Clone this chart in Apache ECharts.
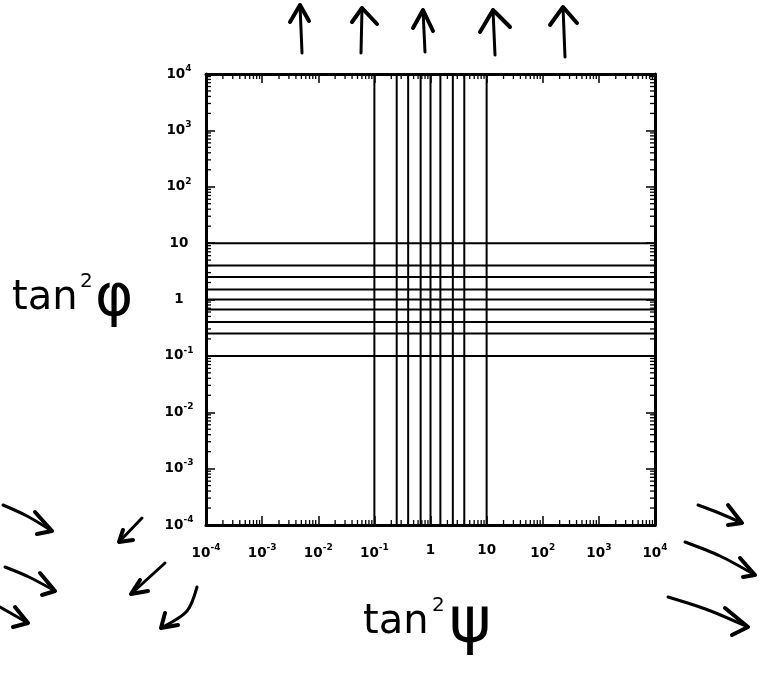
<!DOCTYPE html>
<html>
<head>
<meta charset="utf-8">
<script src="https://cdn.jsdelivr.net/npm/echarts@6/dist/echarts.min.js"></script>
<style>
  html, body { margin: 0; padding: 0; background: #fff; }
  #chart { width: 769px; height: 675px; }
</style>
</head>
<body>
<div id="chart"></div>
<script>
// Log-log coordinate grid: lines of constant tan²ψ (vertical) and tan²φ (horizontal)
const axisRange = [1e-4, 1e4];
const psiValues = [0.1, 0.25, 0.4, 0.667, 1, 1.5, 2.5, 4, 10];   // tan²ψ
const phiValues = [0.1, 0.25, 0.4, 0.667, 1, 1.5, 2.5, 4, 10];   // tan²φ
const decadeExponents = [-4, -3, -2, -1, 0, 1, 2, 3, 4];

// Minor log ticks 2..9 within each decade
const minorTicks = [];
for (let i = 0; i < decadeExponents.length - 1; i++) {
  for (let m = 2; m <= 9; m++) {
    const v = m * Math.pow(10, decadeExponents[i]);
    minorTicks.push([v, v]);
  }
}

function powerLabel(v) {
  const k = Math.round(Math.log10(v));
  if (k === 0) return '{b|1}';
  if (k === 1) return '{b|10}';
  return '{b|10}{s|' + k + '}';
}

const labelRich = {
  b: { fontFamily: 'DejaVu Sans', fontWeight: 'bold', fontSize: 13.5, color: '#000' },
  s: { fontFamily: 'DejaVu Sans', fontWeight: 'bold', fontSize: 9, color: '#000', padding: [0, 0, 11, 0] }
};

const axisLineStyle = { show: true, lineStyle: { color: '#000', width: 3 } };
const majorTick = { show: true, inside: true, length: 9, lineStyle: { color: '#000', width: 1.5 } };

function logAxis(extra) {
  return Object.assign({
    type: 'log',
    logBase: 10,
    min: axisRange[0],
    max: axisRange[1],
    splitNumber: 8,
    axisLine: axisLineStyle,
    axisTick: majorTick,
    splitLine: { show: false },
    axisLabel: { show: false }
  }, extra);
}

const series = [];
psiValues.forEach(function (x) {
  series.push({
    type: 'line', xAxisIndex: 0, yAxisIndex: 0, showSymbol: false, silent: true,
    lineStyle: { color: '#000', width: 2 },
    data: [[x, axisRange[0]], [x, axisRange[1]]]
  });
});
phiValues.forEach(function (y) {
  series.push({
    type: 'line', xAxisIndex: 0, yAxisIndex: 0, showSymbol: false, silent: true,
    lineStyle: { color: '#000', width: 2 },
    data: [[axisRange[0], y], [axisRange[1], y]]
  });
});

// Minor ticks on all four sides of the frame
series.push({
  type: 'custom', xAxisIndex: 0, yAxisIndex: 0, silent: true, clip: false,
  data: minorTicks,
  renderItem: function (params, api) {
    const v = api.value(0);
    const cs = params.coordSys;
    const px = api.coord([v, axisRange[0]])[0];
    const py = api.coord([axisRange[0], v])[1];
    const len = 5;
    const st = { stroke: '#000', lineWidth: 1.3 };
    const left = cs.x, right = cs.x + cs.width, top = cs.y, bottom = cs.y + cs.height;
    return {
      type: 'group',
      children: [
        { type: 'line', shape: { x1: px, y1: bottom, x2: px, y2: bottom - len }, style: st },
        { type: 'line', shape: { x1: px, y1: top, x2: px, y2: top + len }, style: st },
        { type: 'line', shape: { x1: left, y1: py, x2: left + len, y2: py }, style: st },
        { type: 'line', shape: { x1: right, y1: py, x2: right - len, y2: py }, style: st }
      ]
    };
  }
});

// Hand-drawn arrows around the frame: [tail, tip, wing1, wing2, optional bend]
const arrowStrokes = [
  [[302, 53], [300, 5], [290, 22], [309, 21]],
  [[361, 53], [362, 8], [352, 22], [377, 24]],
  [[425, 52], [423, 10], [413, 28], [433, 31]],
  [[495, 55], [493, 10], [480, 32], [510, 27]],
  [[565, 57], [563, 7], [550, 25], [577, 23]],
  [[3, 505], [52, 531], [35, 512], [37, 534], [27, 516]],
  [[5, 567], [55, 591], [40, 573], [42, 595], [29, 577]],
  [[0, 607], [28, 623], [15, 607], [13, 627]],
  [[142, 518], [119, 542], [123, 530], [133, 540]],
  [[165, 563], [131, 594], [140, 580], [148, 591]],
  [[197, 587], [161, 628], [165, 613], [178, 625], [187, 611]],
  [[698, 505], [742, 523], [728, 505], [728, 525], [719, 513]],
  [[685, 542], [755, 575], [740, 558], [743, 577], [720, 556]],
  [[668, 597], [748, 627], [725, 608], [732, 635], [708, 610]]
];

const graphics = [];
arrowStrokes.forEach(function (a) {
  const shaft = a[4] ? [a[0], a[4], a[1]] : [a[0], a[1]];
  graphics.push({
    type: 'polyline', silent: true,
    shape: { points: shaft, smooth: a[4] ? 0.3 : 0 },
    style: { stroke: '#000', lineWidth: 3, fill: null, lineCap: 'round', lineJoin: 'round' }
  });
  graphics.push({
    type: 'polyline', silent: true,
    shape: { points: [a[2], a[1], a[3]] },
    style: { stroke: '#000', lineWidth: 4, fill: null, lineCap: 'round', lineJoin: 'round' }
  });
});

// Axis titles
const titleFont = 'DejaVu Sans';
function handText(x, y, text, size) {
  return {
    type: 'text', silent: true, x: x, y: y,
    style: { text: text, fontFamily: titleFont, fontSize: size, fill: '#000', align: 'left', verticalAlign: 'middle' }
  };
}
graphics.push(handText(12, 299, 'tan', 40));
graphics.push(handText(80, 282, '2', 20));
graphics.push(handText(95, 300, 'φ', 58));
graphics.push(handText(363, 623, 'tan', 40));
graphics.push(handText(432, 606, '2', 20));
graphics.push(handText(449, 625, 'ψ', 64));

const chart = echarts.init(document.getElementById('chart'), null, { renderer: 'canvas' });
chart.setOption({
  animation: false,
  backgroundColor: '#fff',
  grid: { left: 206, top: 74, width: 449, height: 451 },
  xAxis: [
    logAxis({
      position: 'bottom',
      axisLabel: { show: true, margin: 18, formatter: powerLabel, rich: labelRich }
    }),
    logAxis({ position: 'top' })
  ],
  yAxis: [
    logAxis({
      position: 'left',
      axisLabel: { show: true, margin: 27, align: 'center', formatter: powerLabel, rich: labelRich }
    }),
    logAxis({ position: 'right' })
  ],
  series: series,
  graphic: graphics
});
</script>
</body>
</html>
